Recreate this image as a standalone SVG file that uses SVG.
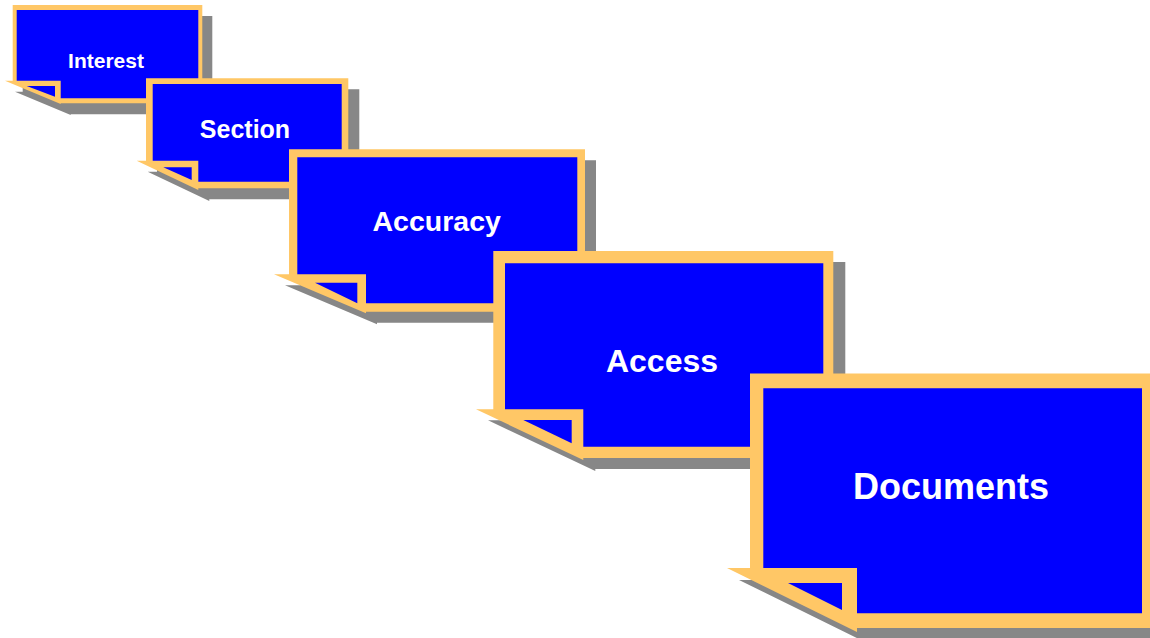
<svg xmlns="http://www.w3.org/2000/svg" width="1150" height="638" viewBox="0 0 1150 638">
<style>
.shadow{fill:#878787}
.frame{fill:#FFC766}
.face{fill:#0000FF}
.label{fill:#FFFFFF;font-family:"Liberation Sans",Arial,Helvetica,sans-serif;font-weight:bold;text-anchor:middle}
</style>
<rect width="1150" height="638" fill="#FFFFFF"/>
<g id="connectors"></g>
<g id="interest">
<polygon class="shadow" transform="translate(10,11)" points="12.7,5 202.3,5 202.3,103.3 60.7,103.3 60.7,104 5,80.7 12.7,80.7"/>
<polygon class="frame" points="12.7,5 202.3,5 202.3,103.3 60.7,103.3 60.7,104 5,80.7 12.7,80.7"/>
<polygon class="face" points="16.7,10 198.3,10 198.3,98.3 60.7,98.3 60.7,80.7 16.7,80.7"/>
<polygon class="face" points="26.7,86 55,86 55,96.7"/>
<text class="label" x="106" y="67.5" font-size="21">Interest</text>
</g>
<g id="section">
<polygon class="shadow" transform="translate(11,11)" points="146,78.3 348.3,78.3 348.3,188.3 198.3,188.3 198.3,190 136.7,160.7 146,160.7"/>
<polygon class="frame" points="146,78.3 348.3,78.3 348.3,188.3 198.3,188.3 198.3,190 136.7,160.7 146,160.7"/>
<polygon class="face" points="152.7,84 341.7,84 341.7,181.7 198.3,181.7 198.3,160.7 152.7,160.7"/>
<polygon class="face" points="163.3,167.3 191.7,167.3 191.7,180"/>
<text class="label" x="245" y="137.5" font-size="25">Section</text>
</g>
<g id="accuracy">
<polygon class="shadow" transform="translate(11,11)" points="289,149.3 585,149.3 585,311.7 366,311.7 366,313.3 274,274.3 289,274.3"/>
<polygon class="frame" points="289,149.3 585,149.3 585,311.7 366,311.7 366,313.3 274,274.3 289,274.3"/>
<polygon class="face" points="297.3,157.3 577.3,157.3 577.3,303.3 366,303.3 366,274.3 297.3,274.3"/>
<polygon class="face" points="315,282.7 357.3,282.7 357.3,303.3"/>
<text class="label" x="436.7" y="230.5" font-size="28.5">Accuracy</text>
</g>
<g id="access">
<polygon class="shadow" transform="translate(12,11)" points="493.3,251 833.3,251 833.3,458 583.3,458 583.3,460 476,409.3 493.3,409.3"/>
<polygon class="frame" points="493.3,251 833.3,251 833.3,458 583.3,458 583.3,460 476,409.3 493.3,409.3"/>
<polygon class="face" points="505,263.3 823.3,263.3 823.3,446.7 583.3,446.7 583.3,409.3 505,409.3"/>
<polygon class="face" points="523.3,420 571.7,420 571.7,443.3"/>
<text class="label" x="662" y="371.5" font-size="32">Access</text>
</g>
<g id="documents">
<polygon class="shadow" transform="translate(12,12)" points="750,373.5 1155,373.5 1155,628 857,628 857,632 727,568 750,568"/>
<polygon class="frame" points="750,373.5 1155,373.5 1155,628 857,628 857,632 727,568 750,568"/>
<polygon class="face" points="763.3,388.3 1142,388.3 1142,613.3 857,613.3 857,568 763.3,568"/>
<polygon class="face" points="788,583 842,583 842,610"/>
<text class="label" x="951" y="499" font-size="36">Documents</text>
</g>
</svg>
